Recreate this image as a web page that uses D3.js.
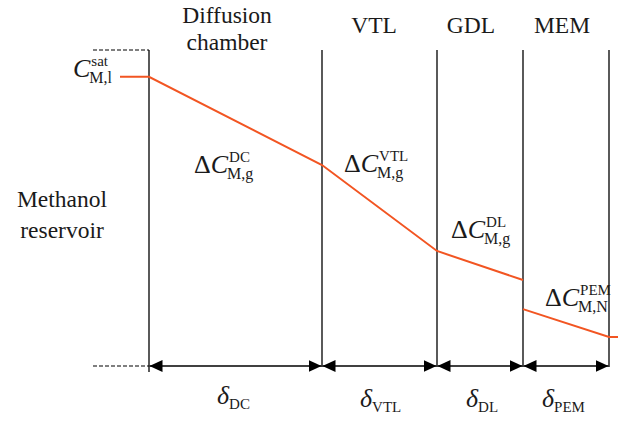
<!DOCTYPE html>
<html><head><meta charset="utf-8">
<script src="https://cdn.jsdelivr.net/npm/d3@7"></script>
<style>body{margin:0;background:#fff}svg{display:block}</style>
</head><body><div id="chart"></div>
<script>
// ---- data ----
const layers = ["Diffusion chamber", "VTL", "GDL", "MEM"];
const thickness = [173, 115, 86, 86];           // relative layer thickness
const thicknessSymbols = ["DC", "VTL", "DL", "PEM"];
const deltaSup = ["DC", "VTL", "DL", "PEM"];
const deltaSub = ["M,g", "M,g", "M,g", "M,N"];
// concentration profile (relative, 0..1): [start, end] of each layer
const concStart = [0.915, 0.636, 0.364, 0.180];
const concEnd   = [0.636, 0.364, 0.272, 0.092];
const reservoirConc = 0.915;

const W = 618, H = 423;
const FONT = "'Liberation Serif', 'Times New Roman', Times, Tinos, 'DejaVu Serif', serif";
const svg = d3.select("#chart").append("svg").attr("width", W).attr("height", H)
  .style("font-family", FONT).attr("font-family", FONT);

const bounds = [0];
thickness.forEach(t => bounds.push(bounds[bounds.length-1] + t));
const x = d3.scaleLinear().domain([0, bounds[bounds.length-1]]).range([149, 609]);
const y = d3.scaleLinear().domain([0, 1]).range([366, 50]);

const orange = "#f25522";
const ink = "#1a1a1a";

// dashed reference lines in reservoir
[1, 0].forEach(v => {
  svg.append("line").attr("x1", 93).attr("x2", x(0)).attr("y1", y(v)).attr("y2", y(v))
    .attr("stroke", "#000").attr("stroke-width", 1.2).attr("stroke-dasharray", "4,2");
});

// vertical boundaries
bounds.forEach((b, i) => {
  svg.append("line").attr("x1", x(b)).attr("x2", x(b)).attr("y1", y(1))
    .attr("y2", i === 0 ? 372 : y(0) + 1)
    .attr("stroke", "#000").attr("stroke-width", 1.3);
});

// arrow marker
const defs = svg.append("defs");
defs.append("marker").attr("id", "arr").attr("viewBox", "0 0 13 12")
  .attr("refX", 13).attr("refY", 6).attr("markerWidth", 13).attr("markerHeight", 12)
  .attr("markerUnits", "userSpaceOnUse").attr("orient", "auto-start-reverse")
  .append("path").attr("d", "M0,0 L13,6 L0,12 Z").attr("fill", "#000");

thickness.forEach((t, i) => {
  svg.append("line").attr("x1", x(bounds[i]) + 0.5).attr("x2", x(bounds[i+1]) - 0.5)
    .attr("y1", y(0)).attr("y2", y(0))
    .attr("stroke", "#000").attr("stroke-width", 1.3)
    .attr("marker-start", "url(#arr)").attr("marker-end", "url(#arr)");
});

// concentration profile
const line = d3.line().x(d => x(d[0])).y(d => y(d[1]));
const p1 = [[-29, reservoirConc], [0, concStart[0]]];
for (let i = 0; i < 3; i++) { p1.push([bounds[i+1], concEnd[i]]); }
svg.append("path").attr("d", line(p1)).attr("fill", "none").attr("stroke", orange).attr("stroke-width", 2);
const p2 = [[bounds[3], concStart[3]], [bounds[4], concEnd[3]], [bounds[4] + 9, concEnd[3]]];
svg.append("path").attr("d", line(p2)).attr("fill", "none").attr("stroke", orange).attr("stroke-width", 2);

// layer titles
const titleY = [[23, 50], [33], [33], [33]];
const titleX = [227, 374, 471, 562];
layers.forEach((name, i) => {
  const lines = i === 0 ? ["Diffusion", "chamber"] : [name];
  lines.forEach((ln, j) => {
    svg.append("text").attr("x", titleX[i]).attr("y", titleY[i][j]).attr("fill", ink)
      .attr("text-anchor", "middle").attr("font-size", 23.5).text(ln);
  });
});

// reservoir label
["Methanol", "reservoir"].forEach((ln, j) => {
  svg.append("text").attr("x", 62).attr("y", [207, 238][j]).attr("fill", ink)
    .attr("text-anchor", "middle").attr("font-size", 23.5).text(ln);
});

// symbol helper
function sym(x0, base, delta, sup, sub, supSize, subSize) {
  const t = svg.append("text").attr("x", x0).attr("y", base).attr("font-size", 26).attr("fill", ink);
  if (delta) t.append("tspan").text("Δ");
  t.append("tspan").attr("font-style", "italic").text("C");
  const w = t.node().getComputedTextLength();
  if (sup) svg.append("text").attr("x", x0 + w + 1).attr("y", base - 11).attr("fill", ink)
    .attr("font-size", supSize).text(sup);
  if (sub) svg.append("text").attr("x", x0 + w - 1).attr("y", base + 6).attr("fill", ink)
    .attr("font-size", subSize).text(sub);
}
sym(73, 77, false, "sat", "M,l", 15, 16);
const deltaPos = [[194, 173], [344, 172], [451, 238], [545, 306]];
deltaPos.forEach((p, i) => sym(p[0], p[1], true, deltaSup[i], deltaSub[i], 15, 16));

// thickness symbols
const dPos = [217, 360, 466, 542];
const dBase = [404, 407, 407, 407];
thicknessSymbols.forEach((s, i) => {
  const t = svg.append("text").attr("x", dPos[i]).attr("y", dBase[i]).attr("font-size", 26)
    .attr("fill", ink).attr("font-style", "italic").text("δ");
  const w = t.node().getComputedTextLength();
  svg.append("text").attr("x", dPos[i] + w).attr("y", dBase[i] + 5).attr("fill", ink)
    .attr("font-size", 15).text(s);
});
</script></body></html>
